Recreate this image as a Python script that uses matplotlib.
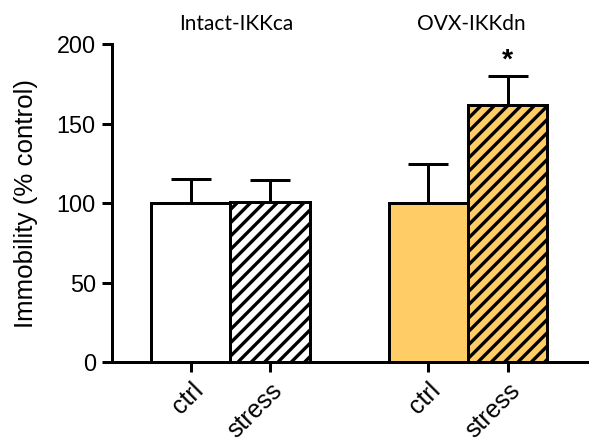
import matplotlib
matplotlib.use("Agg")
import matplotlib.pyplot as plt

# values
groups = ["Intact-IKKca", "OVX-IKKdn"]
labels = ["ctrl", "stress", "ctrl", "stress"]
means = [100, 101, 100, 161.5]
errs = [15.5, 13.5, 24.5, 18.5]
colors = ["white", "white", "#FFCC66", "#FFCC66"]
hatches = ["", "///", "", "///"]
xpos = [0, 1, 3, 4]

plt.rcParams["font.family"] = ["Liberation Sans", "DejaVu Sans"]
plt.rcParams["hatch.linewidth"] = 2.0

fig = plt.figure(figsize=(5, 3.717), dpi=120)
ax = fig.add_axes([0.186, 0.188, 0.792, 0.7127])

for x, m, e, c, h in zip(xpos, means, errs, colors, hatches):
    ax.bar(x, m, width=1.0, color=c, edgecolor="black", linewidth=1.8,
           hatch=h, zorder=2)
    ax.errorbar(x, m, yerr=[[0], [e]], fmt="none", ecolor="black",
                elinewidth=1.8, capsize=12, capthick=1.8, zorder=1)

ax.set_xlim(-1, 5)
ax.set_ylim(0, 200)
ax.set_yticks([0, 50, 100, 150, 200])
ax.set_xticks(xpos)
ax.set_xticklabels(labels, rotation=45, ha="right", rotation_mode="anchor")
ax.tick_params(axis="both", labelsize=14, width=1.8, length=6, direction="out")
ax.tick_params(axis="x", labelsize=15)
ax.set_ylabel("Immobility (% control)", fontsize=15.5, labelpad=11)

for s in ["top", "right"]:
    ax.spines[s].set_visible(False)
for s in ["left", "bottom"]:
    ax.spines[s].set_linewidth(1.8)

ax.text(0.57, 213, groups[0], ha="center", va="center", fontsize=12.5,
        family="Lato", clip_on=False)
ax.text(3.54, 213, groups[1], ha="center", va="center", fontsize=12.5,
        family="Lato", clip_on=False)
ax.text(4, 190, "*", ha="center", va="center", fontsize=17,
        fontweight="bold", clip_on=False)

fig.savefig("out.png", dpi=120)
